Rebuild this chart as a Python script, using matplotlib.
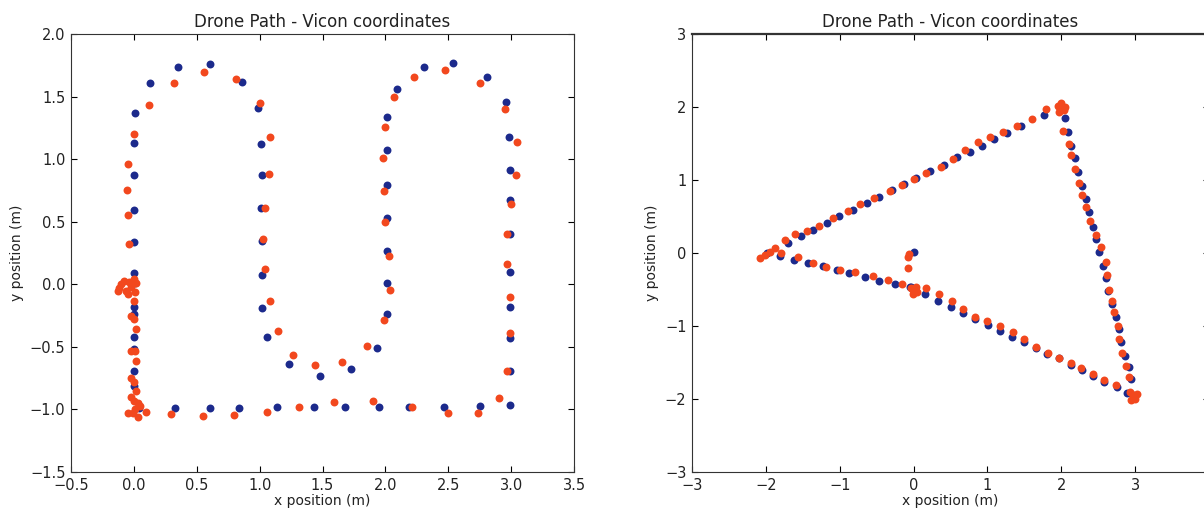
import matplotlib
matplotlib.use("Agg")
import matplotlib.pyplot as plt

# left run: two loops (desired vs measured positions)
loop_blue_x = [0.352, 0.608, 0.132, 0.86, 0.008, 0.99, 0.0, 1.013, 0.0, 1.016, 0.0, 1.013,
               0.0, 1.02, 0.0, 1.016, 0.01, 0.0, 0.0, 1.02, 0.0, 1.06, 0.0, 0.0, 1.233, 1.479,
               0.0, 0.04, 0.325, 0.603, 0.839, 1.14, 1.43, 1.73, 1.93, 2.013, 2.01, 2.01, 2.01,
               2.01, 2.01, 2.013, 2.095, 2.31, 2.54, 2.81, 2.958, 2.984, 2.99, 2.99, 2.99, 2.99,
               2.99, 2.99, 2.99, 2.99, 1.675, 1.947, 2.19, 2.466, 2.754]
loop_blue_y = [1.74, 1.757, 1.605, 1.62, 1.368, 1.41, 1.13, 1.12, 0.87, 0.875, 0.597, 0.608,
               0.336, 0.346, 0.088, 0.075, 0.01, -0.184, -0.237, -0.187, -0.424, -0.42, -0.517,
               -0.69, -0.64, -0.73, -0.816, -0.99, -0.987, -0.987, -0.987, -0.984, -0.984, -0.68,
               -0.51, -0.24, 0.008, 0.266, 0.53, 0.792, 1.072, 1.34, 1.56, 1.736, 1.77, 1.66,
               1.456, 1.176, 0.91, 0.67, 0.40, 0.096, -0.18, -0.43, -0.69, -0.965, -0.98, -0.98,
               -0.978, -0.978, -0.976]

loop_red_x = [0.561, 0.317, 0.81, 0.124, 1.0, 0.003, 1.082, -0.05, 1.077, -0.053, -0.045, 1.045,
              -0.04, 1.024, 1.04, -0.12, -0.1, -0.08, -0.06, -0.04, -0.02, 0.0, 0.01, -0.13,
              -0.05, 0.02, 0.003, 1.08, -0.026, 0.0, 0.02, 1.148, -0.024, 0.01, 0.02, 1.264,
              1.437, -0.026, 0.0, 0.02, -0.02, 0.0, 0.03, -0.05, -0.01, 0.03, 0.01, 0.05, 0.098,
              0.299, 0.55, 0.796, 1.056, 1.317, 1.59, 1.653, 1.85, 1.987, 2.04, 2.03, 2.0, 1.987,
              1.98, 1.995, 2.07, 2.23, 2.474, 2.75, 2.95, 3.045, 3.04, 3.0, 2.97, 2.97, 2.99,
              2.99, 2.97, 2.9, 1.90, 2.21, 2.497, 2.74]
loop_red_y = [1.696, 1.61, 1.637, 1.432, 1.448, 1.2, 1.18, 0.965, 0.882, 0.755, 0.552, 0.61,
              0.322, 0.362, 0.125, -0.03, 0.0, 0.03, -0.05, 0.02, -0.02, 0.04, -0.06, -0.05,
              -0.08, 0.01, -0.13, -0.13, -0.253, -0.278, -0.357, -0.37, -0.533, -0.533, -0.616,
              -0.563, -0.648, -0.752, -0.78, -0.855, -0.9, -0.93, -0.95, -1.03, -1.03, -1.06,
              -1.0, -0.97, -1.024, -1.04, -1.05, -1.043, -1.02, -0.98, -0.944, -0.62, -0.49,
              -0.285, -0.043, 0.23, 0.496, 0.746, 1.01, 1.26, 1.50, 1.66, 1.71, 1.61, 1.40, 1.14,
              0.875, 0.64, 0.40, 0.16, -0.10, -0.39, -0.69, -0.91, -0.933, -0.98, -1.03, -1.03]

# right run: triangle
tri_blue_x = [0.0, -1.986, -1.806, -1.613, -1.423, -1.23, -1.04, -0.869, -0.658, -0.464, -0.252,
              -0.05, -0.03, 0.02, 0.153, 0.324, 0.5, 0.671, 0.838, 1.009, 1.167, 1.338, 1.495,
              1.653, 1.811, 1.968, 2.126, 2.28, 2.428, 2.585, 2.757, 2.892, 2.97, 2.946, 2.915,
              2.865, 2.802, 2.775, 2.743, 2.689, 2.63, 2.608, 2.563, 2.509, 2.473, 2.428, 2.374,
              2.329, 2.284, 2.225, 2.189, 2.135, 2.091, 2.044, 1.977, 1.766, 1.459, 1.27, 1.091,
              0.928, 0.761, 0.585, 0.41, 0.225, 0.027, -0.126, -0.297, -0.469, -0.635, -0.824,
              -1.009, -1.176, -1.365, -1.523, -1.703]
tri_blue_y = [0.01, -0.005, -0.037, -0.096, -0.142, -0.178, -0.233, -0.279, -0.324, -0.379,
              -0.425, -0.47, -0.47, -0.5, -0.562, -0.653, -0.74, -0.822, -0.908, -0.991, -1.064,
              -1.155, -1.223, -1.306, -1.384, -1.443, -1.534, -1.603, -1.685, -1.763, -1.84,
              -1.914, -1.95, -1.73, -1.566, -1.407, -1.215, -1.045, -0.872, -0.703, -0.52, -0.347,
              -0.174, 0.009, 0.192, 0.361, 0.562, 0.74, 0.922, 1.114, 1.297, 1.47, 1.653, 1.854,
              1.98, 1.895, 1.74, 1.64, 1.557, 1.466, 1.384, 1.31, 1.21, 1.128, 1.027, 0.95, 0.863,
              0.771, 0.68, 0.589, 0.502, 0.415, 0.315, 0.233, 0.141]

tri_red_x = [-0.081, -0.06, -0.081, -1.793, -1.559, -1.356, -1.185, -0.996, -0.793, -0.545,
             -0.351, -0.162, -0.004, -0.004, 0.03, -0.04, 0.04, 0.166, 0.347, 0.514, 0.671, 0.838,
             1.0, 1.167, 1.347, 1.495, 1.662, 1.82, 1.968, 2.126, 2.27, 2.428, 2.585, 2.743, 2.93,
             2.97, 3.0, 2.95, 3.02, 2.923, 2.878, 2.82, 2.788, 2.766, 2.72, 2.689, 2.644, 2.622,
             2.599, 2.531, 2.473, 2.383, 2.329, 2.284, 2.239, 2.189, 2.135, 2.104, 2.023, 1.95,
             2.0, 2.05, 1.97, 2.03, 1.797, 1.604, 1.405, 1.212, 1.031, 0.874, 0.693, 0.536, 0.365,
             0.166, 0.009, -0.162, -0.32, -0.531, -0.725, -0.892, -1.085, -1.279, -1.437, -1.604,
             -1.739, -2.076, -2.01, -1.94, -1.874]
tri_red_y = [-0.05, -0.02, -0.21, -0.005, -0.05, -0.132, -0.196, -0.237, -0.265, -0.315, -0.37,
             -0.42, -0.507, -0.562, -0.47, -0.48, -0.53, -0.484, -0.566, -0.662, -0.767, -0.872,
             -0.927, -1.0, -1.086, -1.182, -1.283, -1.374, -1.434, -1.511, -1.58, -1.662, -1.74,
             -1.808, -1.9, -1.95, -2.0, -2.02, -1.93, -1.703, -1.548, -1.374, -1.182, -1.0,
             -0.813, -0.658, -0.507, -0.301, -0.119, 0.078, 0.247, 0.443, 0.626, 0.79, 0.963,
             1.151, 1.342, 1.493, 1.676, 2.02, 2.05, 2.0, 1.93, 1.96, 1.973, 1.831, 1.74, 1.662,
             1.593, 1.516, 1.41, 1.288, 1.178, 1.09, 1.018, 0.932, 0.849, 0.749, 0.667, 0.58,
             0.475, 0.37, 0.306, 0.26, 0.178, -0.073, -0.027, 0.018, 0.064]

loop_xticks = [-0.5, 0.0, 0.5, 1.0, 1.5, 2.0, 2.5, 3.0, 3.5]
loop_yticks = [-1.5, -1.0, -0.5, 0.0, 0.5, 1.0, 1.5, 2.0]
tri_xticks = [-3, -2, -1, 0, 1, 2, 3, 4]
tri_xlabels = ["\u22123", "\u22122", "\u22121", "0", "1", "2", "3", ""]  # 4 falls off the edge
tri_yticks = [-3, -2, -1, 0, 1, 2, 3]

blue = "#1c2a8c"
red = "#f2481e"
title = "Drone Path - Vicon coordinates"

plt.rcParams["xtick.direction"] = "in"
plt.rcParams["ytick.direction"] = "in"
plt.rcParams["xtick.top"] = True
plt.rcParams["ytick.right"] = True
plt.rcParams["xtick.major.size"] = 4
plt.rcParams["ytick.major.size"] = 4

fig = plt.figure(figsize=(12.04, 5.08), dpi=100)
ax1 = fig.add_axes([71 / 1204, 36 / 508, 503 / 1204, 438 / 508])
ax2 = fig.add_axes([692 / 1204, 36 / 508, 517 / 1204, 438 / 508])

ax1.plot(loop_blue_x, loop_blue_y, "o", color=blue, markersize=5.7, markeredgewidth=0)
ax1.plot(loop_red_x, loop_red_y, "o", color=red, markersize=5.7, markeredgewidth=0)
ax1.set_xlim(-0.5, 3.5)
ax1.set_ylim(-1.5, 2.0)
ax1.set_xticks(loop_xticks)
ax1.set_yticks(loop_yticks)

ax2.plot(tri_blue_x, tri_blue_y, "o", color=blue, markersize=5.7, markeredgewidth=0)
ax2.plot(tri_red_x, tri_red_y, "o", color=red, markersize=5.7, markeredgewidth=0)
ax2.set_xlim(-3, 4)
ax2.set_ylim(-3, 3)
ax2.set_xticks(tri_xticks)
ax2.set_xticklabels(tri_xlabels)
ax2.set_yticks(tri_yticks)
ax2.spines["top"].set_linewidth(1.6)

for ax in (ax1, ax2):
    ax.set_title(title, fontsize=12, color="#222222", pad=5)
    ax.set_xlabel("x position (m)", fontsize=10, color="#222222", labelpad=1)
    ax.set_ylabel("y position (m)", fontsize=10, color="#222222")
    ax.tick_params(labelsize=10.5, labelcolor="#222222", pad=4)
    for s in ax.spines.values():
        s.set_color("#333333")

fig.savefig("out.png", dpi=100)
